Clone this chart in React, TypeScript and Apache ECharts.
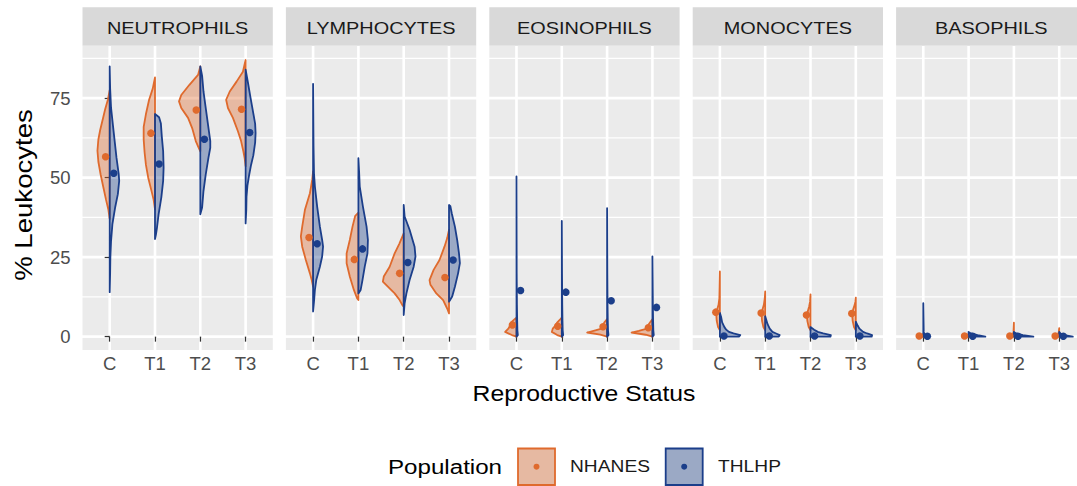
import React, { useEffect, useRef } from 'react';
import * as echarts from 'echarts';

const cellTypes = ['NEUTROPHILS', 'LYMPHOCYTES', 'EOSINOPHILS', 'MONOCYTES', 'BASOPHILS'];
const statuses = ['C', 'T1', 'T2', 'T3'];
const populations = ['NHANES', 'THLHP'];
const yTicks = [0, 25, 50, 75];
const yMinorTicks = [12.5, 37.5, 62.5, 87.5];

// point estimates per cell type (rows) and status (columns)
const nhanesMeans = [
  [56.6, 64.0, 71.3, 71.5],
  [31.2, 24.3, 19.9, 18.6],
  [3.7, 3.3, 3.1, 2.8],
  [7.7, 7.4, 6.8, 7.3],
  [0.2, 0.2, 0.2, 0.2],
];
const thlhpMeans = [
  [51.4, 54.3, 62.1, 64.2],
  [29.2, 27.6, 23.3, 24.1],
  [14.5, 14.0, 11.3, 9.2],
  [0.2, 0.2, 0.2, 0.2],
  [0.1, 0.1, 0.1, 0.1],
];

// violin outlines: [value, half-width in category units], bottom -> top, one per status
const neutrophilsNhanes = [
  [[37, 0], [40, 0.03], [43, 0.08], [47, 0.14], [51, 0.2], [55, 0.25], [58.5, 0.27], [62, 0.25], [65, 0.21], [68.5, 0.15], [71.5, 0.1], [74.5, 0.04], [77.5, 0]],
  [[40, 0], [43, 0.03], [46, 0.08], [50, 0.15], [54, 0.2], [58, 0.23], [62, 0.25], [66, 0.25], [70, 0.2], [74.5, 0.13], [78, 0.05], [81.5, 0]],
  [[58.3, 0], [59.5, 0.04], [61.5, 0.1], [65.6, 0.18], [68.8, 0.27], [71.9, 0.42], [74, 0.47], [76, 0.42], [79.2, 0.24], [82.3, 0.05], [85, 0]],
  [[53.6, 0], [56, 0.02], [58.3, 0.05], [61.5, 0.1], [64.6, 0.17], [68.8, 0.28], [71.9, 0.39], [74.5, 0.43], [77.1, 0.35], [80.2, 0.2], [83.3, 0.06], [87, 0]],
];
const neutrophilsThlhp = [
  [[14, 0], [20, 0.01], [25, 0.015], [30, 0.03], [35.4, 0.06], [40.6, 0.12], [44.8, 0.18], [49, 0.21], [51, 0.2], [56.3, 0.15], [61.5, 0.11], [66.7, 0.07], [72, 0.03], [78, 0.01], [85, 0]],
  [[30.7, 0], [32, 0.02], [34.4, 0.045], [38.5, 0.08], [43.8, 0.14], [49, 0.18], [53.1, 0.19], [58.3, 0.18], [63, 0.15], [67, 0.13], [69, 0.09], [70, 0]],
  [[38.5, 0], [40.6, 0.04], [45.8, 0.07], [51, 0.12], [56.3, 0.18], [59.4, 0.22], [61.5, 0.22], [66.7, 0.17], [71.9, 0.12], [77.1, 0.07], [82, 0.04], [85, 0]],
  [[35.6, 0], [40, 0.015], [44, 0.02], [47.5, 0.04], [51, 0.08], [54, 0.12], [57, 0.17], [61, 0.21], [64, 0.22], [67, 0.21], [71, 0.16], [75, 0.11], [80, 0.05], [84, 0]],
];
const lymphocytesNhanes = [
  [[15.7, 0], [17.8, 0.03], [19.9, 0.07], [24.1, 0.16], [28.3, 0.24], [31.5, 0.27], [34.6, 0.24], [39.9, 0.18], [45.1, 0.07], [49.3, 0.02], [52, 0]],
  [[11.5, 0], [12.1, 0.03], [14.7, 0.1], [18.9, 0.19], [23.1, 0.26], [26.2, 0.26], [30.4, 0.19], [34.6, 0.13], [38, 0.07], [39, 0]],
  [[9.4, 0], [9.9, 0.03], [11.5, 0.09], [13.6, 0.2], [15.7, 0.35], [17.3, 0.46], [18.9, 0.44], [22, 0.31], [26.2, 0.2], [29.1, 0.1], [32.5, 0]],
  [[7.3, 0], [8.5, 0.03], [9.4, 0.06], [11.5, 0.13], [13.6, 0.28], [16.3, 0.41], [17.8, 0.43], [21, 0.34], [24.1, 0.21], [28.3, 0.1], [31, 0.04], [33.6, 0]],
];
const lymphocytesThlhp = [
  [[7.9, 0], [11, 0.02], [14.7, 0.04], [17.8, 0.07], [22, 0.15], [25.2, 0.2], [28.3, 0.22], [30.4, 0.2], [34.6, 0.15], [40.9, 0.09], [47.2, 0.04], [51.4, 0.02], [60, 0.01], [79.5, 0]],
  [[13.6, 0], [14.7, 0.05], [17.8, 0.09], [22, 0.14], [26.2, 0.2], [30.4, 0.21], [34.6, 0.18], [40.9, 0.1], [47.2, 0.03], [52, 0.015], [56.1, 0]],
  [[6.8, 0], [10.5, 0.02], [13.6, 0.06], [17.8, 0.13], [22, 0.22], [25.2, 0.26], [28.3, 0.24], [33.6, 0.13], [37.8, 0.02], [41.4, 0]],
  [[11, 0], [12.6, 0.07], [15.7, 0.13], [19.9, 0.2], [23.1, 0.24], [26.2, 0.22], [30.4, 0.18], [34.6, 0.13], [38.8, 0.06], [41, 0.03], [41.4, 0]],
];
const eosinophilsNhanes = [
  [[0, 0], [0.5, 0.1], [1.5, 0.25], [2.5, 0.18], [3.5, 0.14], [4.5, 0.12], [5.5, 0.04], [6, 0]],
  [[0, 0], [0.5, 0.1], [1.5, 0.22], [2.5, 0.2], [3.5, 0.14], [4.5, 0.1], [5.5, 0.03], [6, 0]],
  [[0, 0], [0.6, 0.15], [1.3, 0.44], [1.8, 0.3], [2.5, 0.12], [3.5, 0.1], [4.5, 0.06], [5.5, 0]],
  [[0, 0], [0.6, 0.15], [1.3, 0.46], [1.8, 0.3], [2.5, 0.12], [3.5, 0.1], [4.5, 0.05], [5.5, 0]],
];
const eosinophilsThlhp = [
  [[0, 0], [0.5, 0.03], [2, 0.02], [5, 0.015], [10, 0.01], [20, 0.005], [50.4, 0]],
  [[0, 0], [0.5, 0.03], [2, 0.02], [5, 0.015], [10, 0.01], [20, 0.005], [36.4, 0]],
  [[0, 0], [0.5, 0.03], [2, 0.02], [5, 0.015], [10, 0.01], [20, 0.005], [40.4, 0]],
  [[0, 0], [0.5, 0.03], [2, 0.02], [5, 0.015], [10, 0.01], [18, 0.005], [25.2, 0]],
];
const monocytesNhanes = [
  [[2, 0], [3, 0.04], [5, 0.07], [7, 0.08], [8.5, 0.06], [10, 0.03], [12, 0.012], [20.5, 0]],
  [[2, 0], [3, 0.04], [5, 0.07], [7, 0.08], [8.5, 0.06], [10, 0.03], [12, 0.01], [14.2, 0]],
  [[2, 0], [3, 0.04], [5, 0.07], [6.5, 0.08], [8, 0.06], [9.5, 0.03], [11, 0.01], [13.3, 0]],
  [[2, 0], [3, 0.04], [5, 0.07], [7, 0.08], [8.5, 0.06], [10, 0.025], [11, 0.01], [12.3, 0]],
];
const monocytesThlhp = [
  [[0, 0.42], [0.5, 0.45], [1, 0.3], [1.5, 0.2], [2.2, 0.14], [3, 0.1], [4.5, 0.05], [6, 0.03], [7.5, 0]],
  [[0, 0.3], [0.5, 0.32], [1, 0.24], [1.5, 0.16], [2.5, 0.1], [4, 0.05], [5.5, 0.02], [6.4, 0]],
  [[0, 0.44], [0.5, 0.45], [1, 0.28], [1.5, 0.16], [2.2, 0.08], [3, 0]],
  [[0, 0.35], [0.5, 0.36], [1, 0.25], [1.5, 0.16], [2.5, 0.08], [3.5, 0.04], [4.7, 0]],
];
const basophilsNhanes = [
  [[0, 0.05], [0.4, 0.03], [0.9, 0]],
  [[0, 0.05], [0.4, 0.03], [0.9, 0]],
  [[0, 0.06], [0.5, 0.03], [1.5, 0.01], [4.4, 0]],
  [[0, 0.06], [0.5, 0.03], [1.5, 0.01], [2.7, 0]],
];
const basophilsThlhp = [
  [[0, 0.08], [0.5, 0.03], [1.5, 0.01], [10.5, 0]],
  [[0, 0.37], [0.5, 0.2], [1, 0.05], [1.5, 0]],
  [[0, 0.43], [0.5, 0.2], [1, 0.05], [1.5, 0]],
  [[0, 0.3], [0.5, 0.12], [1, 0.03], [1.5, 0]],
];

const nhanesViolins = [neutrophilsNhanes, lymphocytesNhanes, eosinophilsNhanes, monocytesNhanes, basophilsNhanes];
const thlhpViolins = [neutrophilsThlhp, lymphocytesThlhp, eosinophilsThlhp, monocytesThlhp, basophilsThlhp];

const FONT = '"Liberation Sans", Arial, Helvetica, sans-serif';
const ORANGE = '#DF6A2D';
const BLUE = '#1B3E8A';
const ORANGE_FILL = 'rgba(223,106,45,0.38)';
const BLUE_FILL = 'rgba(27,62,138,0.38)';
const PANEL_BG = '#EBEBEB';

const PANEL_LEFT0 = 82.5;
const PANEL_STEP = 203.4;
const PANEL_W = 190.3;
const PANEL_TOP = 45.7;
const PANEL_H = 304.3;
const X_MIN = -0.6;
const X_MAX = 3.6;
const Y_MIN = -4.2;
const Y_MAX = 91.5;
const DODGE = 0.09;
const MAJOR_W = 2.6;
const MINOR_W = 1.4;

// split [start, end] into bands, leaving gaps of the given widths around each cut
function bands(start: number, end: number, cuts: { p: number; w: number }[]) {
  const out: number[][] = [];
  let s = start;
  cuts.slice().sort((a, b) => a.p - b.p).forEach((c) => {
    out.push([s, c.p - c.w / 2]);
    s = c.p + c.w / 2;
  });
  out.push([s, end]);
  return out.filter(([a, b]) => b > a);
}

// panel background drawn as grey cells; the white gaps between them are the grid lines,
// all positioned through the axes' scales
function panelRenderer(params: any, api: any) {
  const cs = params.coordSys;
  const hCuts = [
    ...yTicks.map((v) => ({ p: api.coord([0, v])[1], w: MAJOR_W })),
    ...yMinorTicks.map((v) => ({ p: api.coord([0, v])[1], w: MINOR_W })),
  ];
  const vCuts = statuses.map((_, k) => ({ p: api.coord([k, 0])[0], w: MAJOR_W }));
  const rows = bands(cs.y, cs.y + cs.height, hCuts);
  const cols = bands(cs.x, cs.x + cs.width, vCuts);
  const children: any[] = [];
  rows.forEach(([y0, y1]) => {
    cols.forEach(([x0, x1]) => {
      children.push({
        type: 'rect',
        shape: { x: x0, y: y0, width: x1 - x0, height: y1 - y0 },
        style: { fill: PANEL_BG },
      });
    });
  });
  return { type: 'group', children };
}

function violinRenderer(outlines: number[][][], sign: number, stroke: string, fill: string) {
  return (params: any, api: any) => {
    const k = api.value(0);
    const outline = outlines[k];
    const pts: number[][] = [];
    pts.push(api.coord([k, outline[0][0]]));
    outline.forEach(([v, w]) => pts.push(api.coord([k + sign * w, v])));
    pts.push(api.coord([k, outline[outline.length - 1][0]]));
    return {
      type: 'polygon',
      shape: { points: pts },
      style: { fill, stroke, lineWidth: 1.8, lineJoin: 'round' },
    };
  };
}

export default function App() {
  const ref = useRef<HTMLDivElement>(null);
  useEffect(() => {
    if (!ref.current) return;
    const chart = echarts.init(ref.current, null, { renderer: 'svg' });

    const grids: any[] = [];
    const xAxes: any[] = [];
    const yAxes: any[] = [];
    const series: any[] = [];
    const graphics: any[] = [];

    cellTypes.forEach((name, i) => {
      const left = PANEL_LEFT0 + i * PANEL_STEP;
      grids.push({
        left, top: PANEL_TOP, width: PANEL_W, height: PANEL_H,
        show: false, containLabel: false, outerBoundsMode: 'none',
      });
      xAxes.push({
        type: 'value', gridIndex: i, min: X_MIN, max: X_MAX,
        axisLine: { show: false },
        axisTick: { show: true, customValues: [0, 1, 2, 3], length: 5, lineStyle: { color: '#333333', width: 1.3 } },
        axisLabel: {
          customValues: [0, 1, 2, 3],
          formatter: (v: number) => statuses[Math.round(v)],
          fontSize: 18.5, color: '#4D4D4D', fontFamily: FONT, margin: 4,
        },
        splitLine: { show: false },
      });
      yAxes.push({
        type: 'value', gridIndex: i, min: Y_MIN, max: Y_MAX,
        axisLine: { show: false },
        axisTick: { show: i === 0, customValues: yTicks, length: 5, lineStyle: { color: '#333333', width: 1.3 } },
        axisLabel: { show: i === 0, customValues: yTicks, fontSize: 18.5, color: '#4D4D4D', fontFamily: FONT, margin: 12 },
        splitLine: { show: false },
      });
      series.push({
        type: 'custom', xAxisIndex: i, yAxisIndex: i, silent: true, z: 1,
        renderItem: panelRenderer,
        data: [[0, 0]],
      });
      series.push({
        type: 'custom', name: populations[0], xAxisIndex: i, yAxisIndex: i, silent: true, z: 2,
        renderItem: violinRenderer(nhanesViolins[i], -1, ORANGE, ORANGE_FILL),
        data: statuses.map((_, k) => [k, nhanesMeans[i][k]]),
      });
      series.push({
        type: 'custom', name: populations[1], xAxisIndex: i, yAxisIndex: i, silent: true, z: 2,
        renderItem: violinRenderer(thlhpViolins[i], 1, BLUE, BLUE_FILL),
        data: statuses.map((_, k) => [k, thlhpMeans[i][k]]),
      });
      series.push({
        type: 'scatter', xAxisIndex: i, yAxisIndex: i, silent: true, z: 4,
        symbol: 'circle', symbolSize: 7.5,
        itemStyle: { color: ORANGE, opacity: 1 },
        data: statuses.map((_, k) => [k - DODGE, nhanesMeans[i][k]]),
      });
      series.push({
        type: 'scatter', xAxisIndex: i, yAxisIndex: i, silent: true, z: 4,
        symbol: 'circle', symbolSize: 7.5,
        itemStyle: { color: BLUE, opacity: 1 },
        data: statuses.map((_, k) => [k + DODGE, thlhpMeans[i][k]]),
      });

      graphics.push({
        type: 'rect', silent: true,
        shape: { x: left, y: 7.3, width: PANEL_W, height: PANEL_TOP - 7.3 },
        style: { fill: '#D9D9D9' },
      });
      graphics.push({
        type: 'text', silent: true, x: left + PANEL_W / 2, y: 28.5, scaleX: 1.17,
        style: { text: name, fontSize: 17, fontFamily: FONT, fill: '#1A1A1A', align: 'center', verticalAlign: 'middle' },
      });
    });

    // axis titles
    graphics.push({
      type: 'text', silent: true, x: 584, y: 393, scaleX: 1.1,
      style: { text: 'Reproductive Status', fontSize: 22.5, fontFamily: FONT, fill: '#000000', align: 'center', verticalAlign: 'middle' },
    });
    graphics.push({
      type: 'text', silent: true, x: 24, y: 195, rotation: Math.PI / 2, scaleX: 1.2,
      style: { text: '% Leukocytes', fontSize: 23, fontFamily: FONT, fill: '#000000', align: 'center', verticalAlign: 'middle' },
    });

    // legend
    const legendY = 466.7;
    graphics.push({
      type: 'text', silent: true, x: 388, y: legendY, scaleX: 1.15,
      style: { text: 'Population', fontSize: 21, fontFamily: FONT, fill: '#000000', align: 'left', verticalAlign: 'middle' },
    });
    const keys = [
      { x: 518, label: populations[0], lx: 570, stroke: ORANGE, fill: ORANGE_FILL },
      { x: 665.7, label: populations[1], lx: 718, stroke: BLUE, fill: BLUE_FILL },
    ];
    keys.forEach((k) => {
      graphics.push({
        type: 'rect', silent: true,
        shape: { x: k.x, y: 448.5, width: 37, height: 36.5 },
        style: { fill: PANEL_BG },
      });
      graphics.push({
        type: 'rect', silent: true,
        shape: { x: k.x, y: 448.5, width: 37, height: 36.5 },
        style: { fill: k.fill, stroke: k.stroke, lineWidth: 1.8 },
      });
      graphics.push({
        type: 'circle', silent: true,
        shape: { cx: k.x + 18.5, cy: legendY, r: 3 },
        style: { fill: k.stroke },
      });
      graphics.push({
        type: 'text', silent: true, x: k.lx, y: legendY, scaleX: 1.13,
        style: { text: k.label, fontSize: 17, fontFamily: FONT, fill: '#1A1A1A', align: 'left', verticalAlign: 'middle' },
      });
    });

    chart.setOption({
      animation: false,
      backgroundColor: '#FFFFFF',
      textStyle: { fontFamily: FONT },
      grid: grids,
      xAxis: xAxes,
      yAxis: yAxes,
      series,
      graphic: { elements: graphics },
    });
    return () => chart.dispose();
  }, []);

  return (
    <div
      ref={ref}
      style={{ position: 'fixed', left: 0, top: 0, width: 1077, height: 486, background: '#FFFFFF' }}
    />
  );
}
